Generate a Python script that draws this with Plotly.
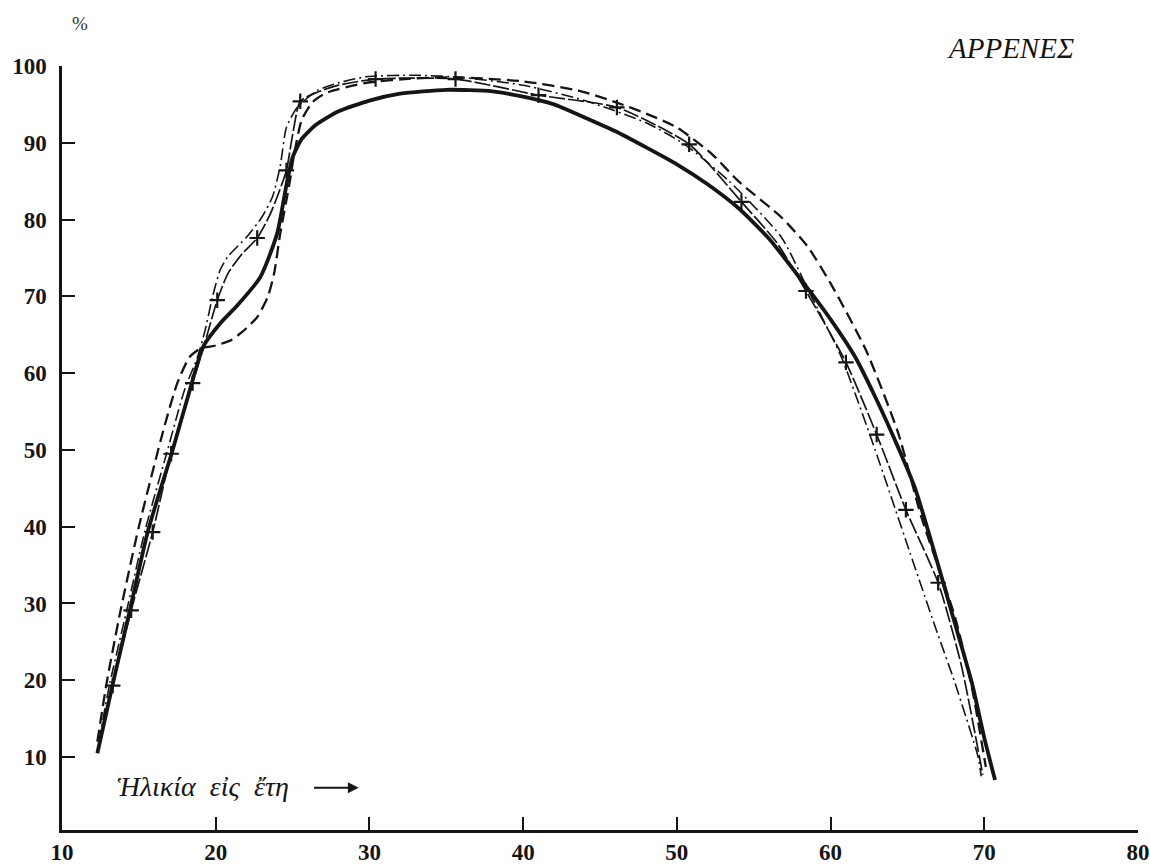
import plotly.graph_objects as go

# ---- data ----
solid_age = [12.3, 13.3, 14.4, 15.6, 17.2, 18.2, 19.2, 20.3, 21.4, 22.9, 24.0, 24.6, 25.0,
             25.6, 26.5, 28.0, 30.0, 32.0, 35.0, 38.0, 40.0, 42.0, 44.0, 46.0, 48.0, 50.0, 52.0,
             54.0, 56.0, 58.6, 60.0, 61.6, 63.0, 64.4, 65.5, 67.0, 68.0, 69.2, 70.0, 70.7]
solid_val = [10.5, 19.5, 29.0, 39.5, 50.0, 57.0, 63.5, 66.5, 68.8, 72.5, 78.2, 84.5, 88.1,
             90.5, 92.3, 94.1, 95.5, 96.4, 96.9, 96.7, 96.0, 95.0, 93.3, 91.5, 89.4, 87.2, 84.6,
             81.5, 77.5, 70.8, 67.0, 62.1, 56.5, 50.3, 45.0, 35.0, 28.0, 19.6, 12.5, 7.0]

dashed_age = [12.3, 12.9, 13.8, 15.0, 16.6, 17.5, 18.3, 19.0, 20.0, 21.0, 21.8, 22.7, 23.4,
              23.8, 24.2, 24.8, 25.1, 25.6, 26.3, 27.2, 29.8, 33.0, 36.0, 40.0, 43.6, 46.0, 48.0,
              50.0, 52.3, 54.0, 56.8, 58.5, 60.0, 62.3, 64.4, 65.9, 68.1, 69.2, 70.1]
dashed_val = [12.0, 19.6, 29.0, 40.0, 52.6, 58.7, 62.1, 63.2, 63.6, 64.3, 65.5, 67.3, 70.0,
              73.0, 78.2, 84.7, 88.5, 93.0, 95.3, 96.5, 97.8, 98.4, 98.5, 98.0, 96.8, 95.3, 93.8,
              92.0, 88.5, 85.0, 80.3, 76.5, 71.7, 63.0, 52.2, 41.3, 28.2, 19.0, 8.7]

dashdot_age = [12.4, 13.1, 14.2, 15.4, 16.8, 18.0, 18.8, 19.3, 19.8, 20.3, 20.8, 22.0, 23.0, 23.7,
               24.2, 24.6, 25.3, 26.6, 28.0, 29.8, 33.0, 36.0, 40.0, 44.0, 48.0, 50.5, 53.4, 56.8,
               58.6, 60.7, 62.9, 65.1, 66.8, 68.1, 69.6, 69.8]
dashdot_val = [12.0, 19.5, 29.0, 39.5, 49.5, 58.0, 62.0, 65.5, 70.0, 73.5, 75.2, 77.7, 80.3, 83.0,
               87.0, 92.0, 94.6, 96.8, 97.8, 98.6, 98.8, 98.5, 97.5, 95.5, 92.6, 89.8, 85.0, 77.7,
               70.6, 62.1, 50.0, 37.0, 27.0, 19.6, 10.0, 7.5]

cross_line_age = [12.5, 13.3, 14.5, 15.9, 17.1, 18.5, 19.3, 20.1, 20.8, 21.7, 22.7, 23.5, 24.1, 24.6,
                  25.0, 25.5, 26.5, 28.0, 30.4, 35.6, 41.0, 46.1, 50.8, 54.2, 56.5, 58.4, 61.0,
                  63.0, 64.9, 67.0, 68.5, 69.9]
cross_line_val = [12.0, 19.3, 29.1, 39.3, 49.5, 58.7, 64.0, 69.5, 73.0, 75.5, 77.6, 80.5, 83.5, 86.4,
                  91.0, 95.4, 96.5, 97.5, 98.3, 98.3, 96.2, 94.6, 89.8, 82.3, 77.0, 70.7, 61.4,
                  52.0, 42.2, 32.7, 22.0, 7.7]

cross_age = [13.3, 14.5, 15.9, 17.1, 18.5, 20.1, 22.7, 24.6, 25.5, 30.4, 35.6, 41.0, 46.1, 50.8,
             54.2, 58.4, 61.0, 63.0, 64.9, 67.0]
cross_val = [19.3, 29.1, 39.3, 49.5, 58.7, 69.5, 77.6, 86.4, 95.4, 98.3, 98.3, 96.2, 94.6, 89.8,
             82.3, 70.7, 61.4, 52.0, 42.2, 32.7]

x_ticks = [10, 20, 30, 40, 50, 60, 70, 80]
y_ticks = [10, 20, 30, 40, 50, 60, 70, 80, 90, 100]

title_text = "ΑΡΡΕΝΕΣ"
age_label = "Ἡλικία  εἰς  ἔτη"

INK = "#151515"
SERIF = "Liberation Serif, DejaVu Serif, serif"

fig = go.Figure()

fig.add_trace(go.Scatter(x=dashdot_age, y=dashdot_val, mode="lines",
                         line=dict(color=INK, width=1.6, dash="12px,4px,2px,4px",
                                   shape="spline", smoothing=0.6),
                         showlegend=False, hoverinfo="skip"))
fig.add_trace(go.Scatter(x=cross_line_age, y=cross_line_val, mode="lines",
                         line=dict(color=INK, width=1.7, dash="16px,3px",
                                   shape="spline", smoothing=0.6),
                         showlegend=False, hoverinfo="skip"))
fig.add_trace(go.Scatter(x=cross_age, y=cross_val, mode="markers",
                         marker=dict(symbol="cross-thin", size=11,
                                     line=dict(color=INK, width=2.2)),
                         showlegend=False, hoverinfo="skip"))
fig.add_trace(go.Scatter(x=dashed_age, y=dashed_val, mode="lines",
                         line=dict(color=INK, width=2.3, dash="12px,6px",
                                   shape="spline", smoothing=0.6),
                         showlegend=False, hoverinfo="skip"))
fig.add_trace(go.Scatter(x=solid_age, y=solid_val, mode="lines",
                         line=dict(color=INK, width=3.8, shape="spline", smoothing=0.6),
                         showlegend=False, hoverinfo="skip"))

fig.update_layout(
    width=1150, height=864,
    margin=dict(l=62, r=12, t=66, b=34, autoexpand=False),
    paper_bgcolor="white", plot_bgcolor="white",
    font=dict(family=SERIF, color=INK),
    xaxis=dict(range=[10, 80], tickvals=x_ticks, ticktext=[str(v) for v in x_ticks],
               automargin=False,
               showgrid=False, zeroline=False, showline=True, linecolor=INK, linewidth=2.5,
               ticks="inside", ticklen=13, tickwidth=2, tickcolor=INK,
               tickfont=dict(family=SERIF, size=23, color=INK, weight="bold")),
    yaxis=dict(range=[0.5, 100], tickvals=y_ticks, ticktext=[str(v) for v in y_ticks],
               automargin=False,
               showgrid=False, zeroline=False, showline=True, linecolor=INK, linewidth=2.5,
               ticks="inside", ticklen=13, tickwidth=2, tickcolor=INK, ticklabelstandoff=8,
               tickfont=dict(family=SERIF, size=23, color=INK, weight="bold")),
    annotations=[
        dict(text="%", xref="paper", yref="paper", x=0.0167, y=1.056, showarrow=False,
             xanchor="center", yanchor="middle", font=dict(family=SERIF, size=19, color="#333")),
        dict(text=title_text, xref="paper", yref="paper", x=0.9425, y=1.0236, showarrow=False,
             xanchor="right", yanchor="middle",
             font=dict(family=SERIF, size=29, color=INK, style="italic")),
        dict(text=age_label, xref="x", yref="y", x=13.45, y=6.2, showarrow=False,
             xanchor="left", yanchor="middle",
             font=dict(family=SERIF, size=28, color=INK, style="italic")),
        dict(text="", xref="x", yref="y", x=29.3, y=6.0, axref="x", ayref="y", ax=26.3, ay=6.0,
             showarrow=True, arrowhead=2, arrowsize=1.2, arrowwidth=1.8, arrowcolor=INK),
    ],
)

fig.write_html("out.html", config={"displayModeBar": False},
               post_script="document.body.style.margin='0';document.body.style.overflow='hidden';")
